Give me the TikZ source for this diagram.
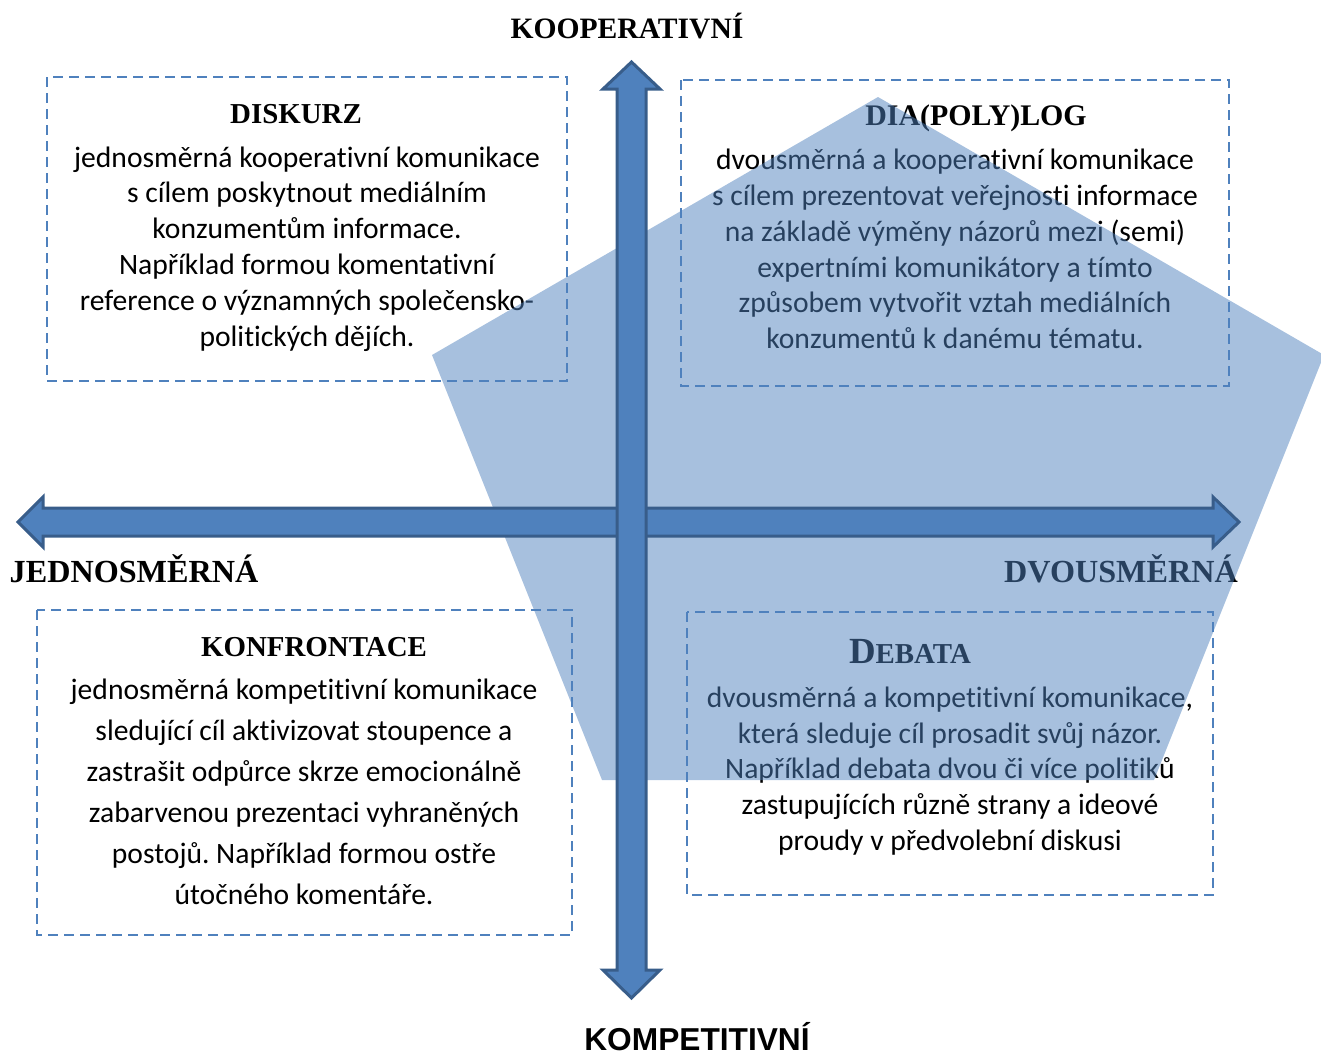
\documentclass[tikz,border=0pt]{standalone}
\usepackage{fontspec}
\setmainfont{Carlito}[Ligatures={NoCommon}]
\newfontfamily\hdfont{Liberation Serif}
\newfontfamily\arfont{Liberation Sans}
\frenchspacing
\definecolor{axblue}{HTML}{4F81BD}
\definecolor{axdark}{HTML}{385D8A}
\tikzset{
  dashbox/.style={draw=axblue, line width=2.8bp, dash pattern=on 10bp off 6bp},
  heading/.style={anchor=base, inner sep=0, font=\hdfont\bfseries\fontsize{29}{30}\selectfont},
  axlabel/.style={anchor=base, inner sep=0, font=\hdfont\bfseries\fontsize{32.3}{33}\selectfont},
  bodytext/.style={align=center, inner sep=0, font=\fontsize{29.7}{36}\selectfont},
  axisarrow/.style={fill=axblue, draw=axdark, line width=3bp, line join=miter},
  penta/.style={fill=axblue, fill opacity=0.5}
}
\begin{document}
\begin{tikzpicture}[x=1bp,y=-1bp]
\useasboundingbox (0,0) rectangle (1321,1063);
\clip (0,0) rectangle (1321,1063);

% dashed boxes
\draw[dashbox] (47,77) rectangle (567,381);
\draw[dashbox] (681,80) rectangle (1229,386);
\draw[dashbox] (37,610) rectangle (572,935);
\draw[dashbox] (687,612) rectangle (1213,895);

% headings
\node[heading] (h1) at (296,123) {DISKURZ};
\node[heading, font=\hdfont\bfseries\fontsize{30}{32}\selectfont] (h2) at (976,125) {DIA(POLY)LOG};
\node[heading] (h3) at (314,656) {KONFRONTACE};
\node[heading] (h4) at (910,663) {{\fontsize{37}{38}\selectfont D}EBATA};

% body texts
\node[bodytext] (t1) at (307,249) {jednosměrná kooperativní komunikace\\
s cílem poskytnout mediálním\\
konzumentům informace.\\
Například formou komentativní\\
reference o významných společensko-\\
politických dějích.};
\node[bodytext] (t2) at (955,249) {dvousměrná a kooperativní komunikace\\
s cílem prezentovat veřejnosti informace\\
na základě výměny názorů mezi (semi)\\
expertními komunikátory a tímto\\
způsobem vytvořit vztah mediálních\\
konzumentů k danému tématu.};
\node[bodytext, font=\fontsize{29.7}{41.2}\selectfont] (t3) at (304,792) {jednosměrná kompetitivní komunikace\\
sledující cíl aktivizovat stoupence a\\
zastrašit odpůrce skrze emocionálně\\
zabarvenou prezentaci vyhraněných\\
postojů. Například formou ostře\\
útočného komentáře.};
\node[bodytext] (t4) at (950,771) {dvousměrná a kompetitivní komunikace,\\
která sleduje cíl prosadit svůj názor.\\
Například debata dvou či více politiků\\
zastupujících různě strany a ideové\\
proudy v předvolební diskusi};

% axis labels
\node[axlabel, font=\hdfont\bfseries\fontsize{29.7}{31}\selectfont] (kop) at (627,38) {KOOPERATIVNÍ};
\node[axlabel] (jed) at (134,582) {JEDNOSMĚRNÁ};
\node[axlabel] (dvo) at (1121,582) {DVOUSMĚRNÁ};
\node[anchor=base, inner sep=0, font=\arfont\bfseries\fontsize{31.8}{33}\selectfont] (kom) at (697,1050) {KOMPETITIVNÍ};

% pentagon overlay
\fill[penta] (878,97) -- (1324,355) -- (1154,780) -- (602,780) -- (432,355) -- cycle;

% horizontal double arrow
\draw[axisarrow] (18,522) -- (43,497) -- (43,508) -- (1213,508) -- (1213,497) -- (1239,522)
  -- (1213,547) -- (1213,536) -- (43,536) -- (43,547) -- cycle;
% vertical double arrow
\draw[axisarrow] (631.5,62) -- (660,89) -- (646,89) -- (646,970) -- (660,970) -- (631.5,998)
  -- (603,970) -- (617,970) -- (617,89) -- (603,89) -- cycle;
\end{tikzpicture}
\end{document}
